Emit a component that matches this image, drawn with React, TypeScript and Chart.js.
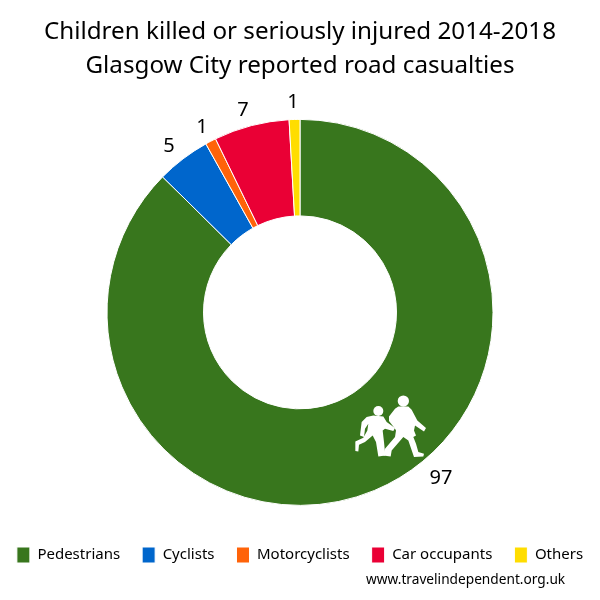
import React, { useEffect, useRef } from "react";
import { Chart, registerables } from "chart.js";

Chart.register(...registerables);

const titleLines = ["Children killed or seriously injured 2014-2018", "Glasgow City reported road casualties"];
const categories = ["Pedestrians", "Cyclists", "Motorcyclists", "Car occupants", "Others"];
const casualties = [97, 5, 1, 7, 1];
const colours = ["#38761D", "#0066CC", "#FF6309", "#EA0035", "#FFDD00"];
const sourceText = "www.travelindependent.org.uk";
const FONT = '"Noto Sans", sans-serif';

// offset of each value label from the centre of the ring (hand placed in the original)
const labelOffsets: [number, number][] = [[141, 166], [-131, -166], [-98, -185], [-57, -202], [-7, -210]];

const rightChild = [[175,78],[205,78],[215,88],[232,120],[258,143],[252,153],[225,135],[222,150],[228,165],[220,170],[228,190],[235,215],[252,220],[250,228],[222,230],[205,180],[190,170],[155,210],[152,228],[130,225],[135,205],[165,170],[168,150],[165,145],[147,122],[147,108],[165,85]];
const leftChild = [[100,105],[130,108],[140,125],[165,143],[160,152],[135,145],[128,150],[132,185],[136,225],[115,228],[108,185],[98,165],[75,185],[57,193],[55,213],[46,212],[46,183],[70,172],[82,150],[85,130],[75,145],[72,170],[60,165],[65,125],[80,110]];
const heads = [[115,92,15],[190,62,17]];

const decorations = {
  id: "decorations",
  afterDraw(chart: any) {
    const { ctx } = chart;
    const arc = chart.getDatasetMeta(0).data[0];
    const cx = arc.x, cy = arc.y;
    ctx.save();
    ctx.fillStyle = "#000";
    ctx.font = `20px ${FONT}`;
    ctx.textAlign = "center";
    ctx.textBaseline = "middle";
    casualties.forEach((v, i) => ctx.fillText(String(v), cx + labelOffsets[i][0], cy + labelOffsets[i][1]));
    ctx.font = `13.7px ${FONT}`;
    ctx.textAlign = "left";
    ctx.fillText(sourceText, 366, 580);
    // school-children sign
    ctx.translate(cx + 40, cy + 68);
    ctx.scale(1 / 3, 1 / 3);
    ctx.fillStyle = "#fff";
    for (const poly of [rightChild, leftChild]) {
      ctx.beginPath();
      poly.forEach(([x, y], i) => (i ? ctx.lineTo(x, y) : ctx.moveTo(x, y)));
      ctx.closePath();
      ctx.fill();
    }
    for (const [x, y, r] of heads) {
      ctx.beginPath();
      ctx.arc(x, y, r, 0, Math.PI * 2);
      ctx.fill();
    }
    ctx.restore();
  },
};

export default function App() {
  const ref = useRef<HTMLCanvasElement>(null);
  useEffect(() => {
    const chart = new Chart(ref.current!, {
      type: "doughnut",
      data: {
        labels: categories,
        datasets: [{ data: casualties, backgroundColor: colours, borderColor: "#fff", borderWidth: 1, hoverOffset: 0 }],
      },
      options: {
        responsive: false,
        animation: false,
        cutout: "50%",
        radius: 193,
        layout: { padding: { top: 0, bottom: 27, left: -20, right: -20 } },
        plugins: {
          title: {
            display: true,
            text: titleLines,
            color: "#000",
            font: { family: FONT, size: 24.2, weight: "normal", lineHeight: 1.4 },
            padding: { top: 15, bottom: 17 },
          },
          legend: {
            position: "bottom",
            labels: { boxWidth: 13, boxHeight: 16, padding: 22, color: "#000", font: { family: FONT, size: 15 } },
          },
          tooltip: { enabled: false },
        },
      },
      plugins: [decorations],
    } as any);
    return () => chart.destroy();
  }, []);
  return <canvas ref={ref} width={600} height={600} style={{ position: "absolute", left: 0, top: 0 }} />;
}
